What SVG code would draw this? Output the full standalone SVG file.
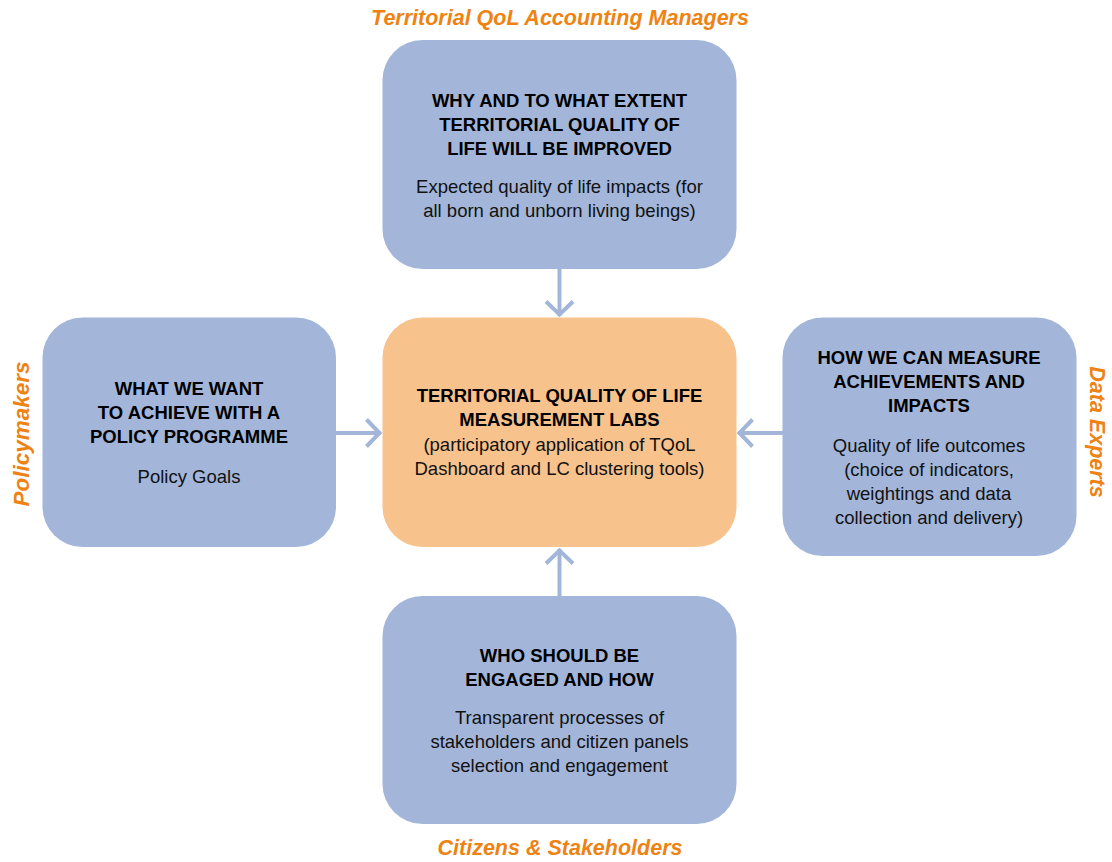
<svg xmlns="http://www.w3.org/2000/svg" width="1112" height="862" viewBox="0 0 1112 862">
  <style>
    .box { fill: #A3B6DA; }
    .core { fill: #F8C28D; }
    .title { font-family: "Liberation Sans", Arial, sans-serif; font-weight: bold; font-size: 18.5px; fill: #000; text-anchor: middle; }
    .body { font-family: "Liberation Sans", Arial, sans-serif; font-size: 18.5px; fill: #111; text-anchor: middle; }
    .role { font-family: "Liberation Sans", Arial, sans-serif; font-weight: bold; font-style: italic; font-size: 21.5px; fill: #EE8212; text-anchor: middle; }
    .link { stroke: #A3B6DA; stroke-width: 4; fill: none; }
  </style>
  <defs>
    <!-- open chevron head, tip sits at the marker origin -->
    <marker id="chev" viewBox="-17 -16 19 32" refX="0" refY="0" markerWidth="19" markerHeight="32" markerUnits="userSpaceOnUse" orient="auto">
      <path d="M-14.5,-13.5 L-1.5,0 L-14.5,13.5" fill="none" stroke="#A3B6DA" stroke-width="4" stroke-linejoin="miter"/>
    </marker>
  </defs>

  <rect width="1112" height="862" fill="#FFFFFF"/>

  <!-- connectors into the central lab -->
  <g id="connectors">
    <line class="link" x1="559.5" y1="269" x2="559.5" y2="316" marker-end="url(#chev)"/>
    <line class="link" x1="336" y1="433" x2="381" y2="433" marker-end="url(#chev)"/>
    <line class="link" x1="783" y1="433" x2="738" y2="433" marker-end="url(#chev)"/>
    <line class="link" x1="559.5" y1="596" x2="559.5" y2="549" marker-end="url(#chev)"/>
  </g>

  <g id="node-top">
    <rect class="box" x="382.5" y="40" width="354" height="229" rx="40"/>
    <text class="title" x="559.5" y="107">WHY AND TO WHAT EXTENT</text>
    <text class="title" x="559.5" y="131">TERRITORIAL QUALITY OF</text>
    <text class="title" x="559.5" y="155">LIFE WILL BE IMPROVED</text>
    <text class="body" x="559.5" y="193">Expected quality of life impacts (for</text>
    <text class="body" x="559.5" y="217">all born and unborn living beings)</text>
  </g>

  <g id="node-left">
    <rect class="box" x="42.5" y="317.5" width="293.5" height="229.5" rx="40"/>
    <text class="title" x="189" y="395">WHAT WE WANT</text>
    <text class="title" x="189" y="419">TO ACHIEVE WITH A</text>
    <text class="title" x="189" y="443">POLICY PROGRAMME</text>
    <text class="body" x="189" y="483">Policy Goals</text>
  </g>

  <g id="node-center">
    <rect class="core" x="382.5" y="317.5" width="354" height="229.5" rx="40"/>
    <text class="title" x="559.5" y="402">TERRITORIAL QUALITY OF LIFE</text>
    <text class="title" x="559.5" y="426">MEASUREMENT LABS</text>
    <text class="body" x="559.5" y="451">(participatory application of TQoL</text>
    <text class="body" x="559.5" y="475">Dashboard and LC clustering tools)</text>
  </g>

  <g id="node-right">
    <rect class="box" x="782.5" y="317.5" width="294" height="238.5" rx="40"/>
    <text class="title" x="929" y="364">HOW WE CAN MEASURE</text>
    <text class="title" x="929" y="388">ACHIEVEMENTS AND</text>
    <text class="title" x="929" y="412">IMPACTS</text>
    <text class="body" x="929" y="452">Quality of life outcomes</text>
    <text class="body" x="929" y="476">(choice of indicators,</text>
    <text class="body" x="929" y="500">weightings and data</text>
    <text class="body" x="929" y="524">collection and delivery)</text>
  </g>

  <g id="node-bottom">
    <rect class="box" x="382.5" y="596" width="354" height="228" rx="40"/>
    <text class="title" x="559.5" y="662">WHO SHOULD BE</text>
    <text class="title" x="559.5" y="686">ENGAGED AND HOW</text>
    <text class="body" x="559.5" y="724">Transparent processes of</text>
    <text class="body" x="559.5" y="748">stakeholders and citizen panels</text>
    <text class="body" x="559.5" y="772">selection and engagement</text>
  </g>

  <!-- stakeholder roles -->
  <g id="roles">
    <text class="role" x="560" y="25">Territorial QoL Accounting Managers</text>
    <text class="role" x="560" y="855">Citizens &amp; Stakeholders</text>
    <text class="role" style="font-size:22.5px" transform="translate(29,434) rotate(-90)">Policymakers</text>
    <text class="role" transform="translate(1090,432) rotate(90)">Data Experts</text>
  </g>
</svg>
